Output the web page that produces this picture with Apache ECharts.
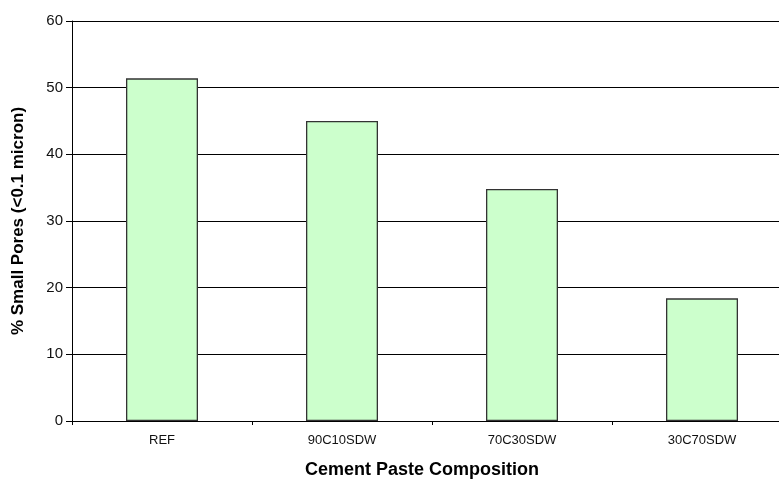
<!DOCTYPE html>
<html>
<head>
<meta charset="utf-8">
<script src="https://cdn.jsdelivr.net/npm/echarts@6/dist/echarts.min.js"></script>
<style>
  html, body { margin: 0; padding: 0; background: #fff; }
  #chart { width: 779px; height: 480px; }
</style>
</head>
<body>
<div id="chart"></div>
<script>
// data
var categories = ['REF', '90C10SDW', '70C30SDW', '30C70SDW'];
var smallPores = [51.4, 45.0, 34.8, 18.4];
var yTicks = { min: 0, max: 60, step: 10 };

var myChart = echarts.init(document.getElementById('chart'));
var font = 'Liberation Sans, Arial, sans-serif';

var option = {
    backgroundColor: '#fff',
    animation: false,
    grid: {
        left: 72,
        top: 21,
        width: 720,   // plot runs past the right edge of the picture
        height: 400,
        containLabel: false,
        outerBoundsMode: 'none'
    },
    xAxis: {
        type: 'category',
        data: categories,
        name: 'Cement Paste Composition',
        nameLocation: 'middle',
        nameGap: 40,
        nameTextStyle: {
            fontFamily: font,
            fontSize: 18,
            fontWeight: 'bold',
            color: '#000',
            padding: [0, 20, 0, 0]
        },
        axisLine: { lineStyle: { color: '#000', width: 1 } },
        axisTick: { show: true, length: 4, lineStyle: { color: '#000' } },
        axisLabel: { fontFamily: font, fontSize: 13, color: '#111', margin: 13 }
    },
    yAxis: {
        type: 'value',
        min: yTicks.min,
        max: yTicks.max,
        interval: yTicks.step,
        name: '% Small Pores (<0.1 micron)',
        nameLocation: 'middle',
        nameGap: 45,
        nameTextStyle: {
            fontFamily: font,
            fontSize: 17,
            fontWeight: 'bold',
            color: '#000'
        },
        axisLine: { show: true, lineStyle: { color: '#000', width: 1 } },
        axisTick: { show: true, length: 6, lineStyle: { color: '#000' } },
        axisLabel: { fontFamily: font, fontSize: 15, color: '#111', margin: 9 },
        splitLine: { show: true, lineStyle: { color: '#000', width: 1 } }
    },
    series: [{
        type: 'bar',
        data: smallPores,
        barWidth: '40%',
        itemStyle: {
            color: '#ccffcc',
            borderColor: '#333',
            borderWidth: 1.3
        }
    }]
};

myChart.setOption(option);
window.addEventListener('resize', function () {
    myChart.resize();
});
</script>
</body>
</html>
